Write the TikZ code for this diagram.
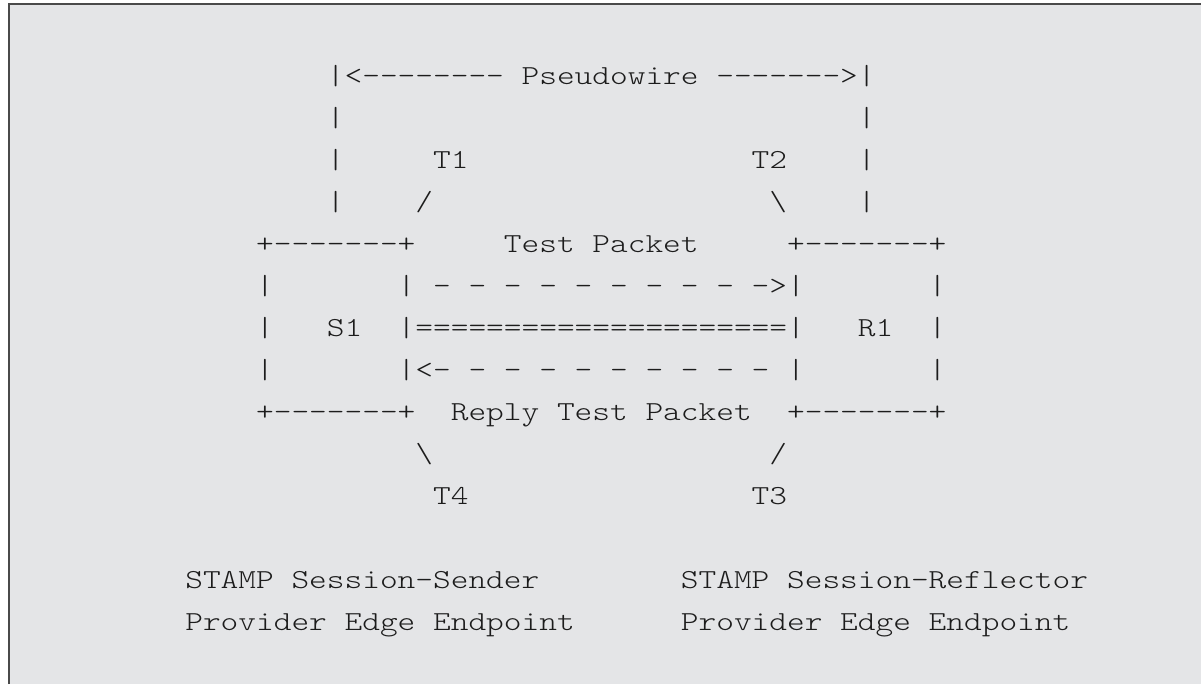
\documentclass[tikz,border=0pt]{standalone}
\usepackage{fontspec}
\setmonofont{Latin Modern Mono Light}[FakeStretch=1.226]
\definecolor{framebg}{HTML}{E4E5E7}
\definecolor{frameline}{HTML}{4A4A4A}
\definecolor{asctext}{HTML}{1C1C1C}
\tikzset{
  asc/.style={anchor=base west, inner sep=0pt, outer sep=0pt, text=asctext,
    font=\ttfamily\fontsize{27.5}{33}\selectfont},
}

\begin{document}
\begin{tikzpicture}[x=17.7pt, y=-42pt]
\useasboundingbox (0,0) rectangle (67.853,16.286);
\fill [white] (0,0) rectangle (67.853,16.286);
\fill [framebg] (0.508,0.095) rectangle (67.853,16.286);
\draw [frameline, line width=2.5pt] (0.508,16.286) -- (0.508,0.095) -- (67.853,0.095);
\begin{scope}[shift={(10.47,1)}]
% pseudowire span
\node [asc] (pw) at (8,1) {|<-------- Pseudowire ------->|};
\node [asc] (pwl2) at (8,2) {|};
\node [asc] (pwr2) at (38,2) {|};
\node [asc] (pwl3) at (8,3) {|};
\node [asc] (t1) at (14,3) {T1};
\node [asc] (t2) at (32,3) {T2};
\node [asc] (pwr3) at (38,3) {|};
\node [asc] (pwl4) at (8,4) {|};
\node [asc] (t1tick) at (13,4) {/};
\node [asc] (t2tick) at (33,4) {\textbackslash};
\node [asc] (pwr4) at (38,4) {|};
% the two endpoints
\node [asc] (s1top) at (4,5) {+-------+};
\node [asc] (testpkt) at (18,5) {Test Packet};
\node [asc] (r1top) at (34,5) {+-------+};
\node [asc] (s1l6) at (4,6) {|};
\node [asc] (fwd) at (12,6) {| - - - - - - - - - ->|};
\node [asc] (r1r6) at (42,6) {|};
\node [asc] (s1l7) at (4,7) {|};
\node [asc] (s1) at (8,7) {S1};
\node [asc] (pwpipe) at (12,7) {|=====================|};
\node [asc] (r1) at (38,7) {R1};
\node [asc] (r1r7) at (42,7) {|};
\node [asc] (s1l8) at (4,8) {|};
\node [asc] (back) at (12,8) {|<- - - - - - - - - - |};
\node [asc] (r1r8) at (42,8) {|};
\node [asc] (s1bot) at (4,9) {+-------+};
\node [asc] (replypkt) at (15,9) {Reply Test Packet};
\node [asc] (r1bot) at (34,9) {+-------+};
\node [asc] (t4tick) at (13,10) {\textbackslash};
\node [asc] (t3tick) at (33,10) {/};
\node [asc] (t4) at (14,11) {T4};
\node [asc] (t3) at (32,11) {T3};
% roles
\node [asc] (sender) at (0,13) {STAMP Session-Sender};
\node [asc] (reflector) at (28,13) {STAMP Session-Reflector};
\node [asc] (senderpe) at (0,14) {Provider Edge Endpoint};
\node [asc] (reflectorpe) at (28,14) {Provider Edge Endpoint};
\end{scope}
\end{tikzpicture}
\end{document}
